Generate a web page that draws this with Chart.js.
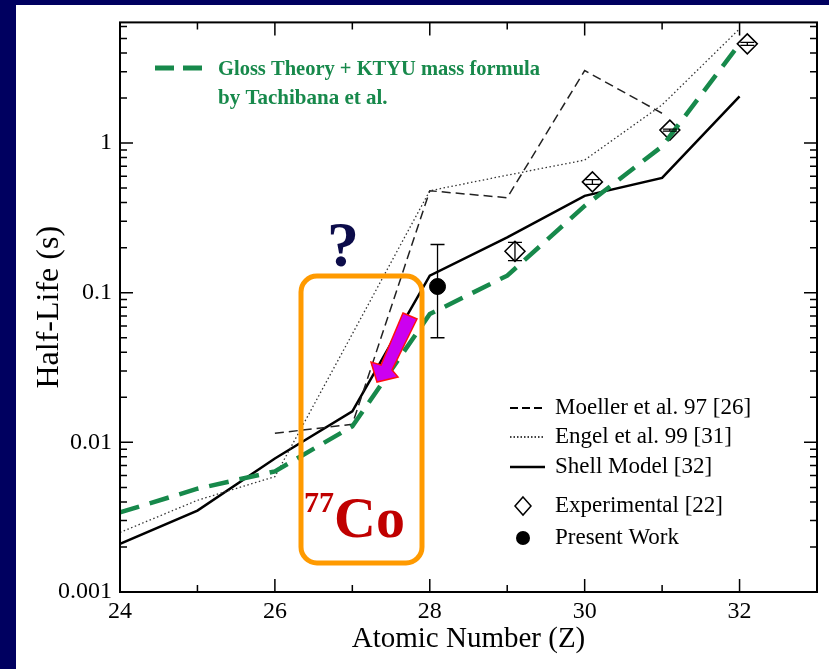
<!DOCTYPE html>
<html>
<head>
<meta charset="utf-8">
<script src="https://cdn.jsdelivr.net/npm/chart.js@4.4.1/dist/chart.umd.min.js"></script>
<style>
  html, body { margin: 0; padding: 0; background: #000060; }
  canvas { display: block; }
</style>
</head>
<body>
<canvas id="chart" width="829" height="669"></canvas>
<script>
// half-life curves, Z vs T1/2 (s)
const glossZ = [24, 25, 26, 27, 28, 29, 30, 31, 32];
const glossT = [0.0034, 0.0049, 0.0064, 0.0128, 0.072, 0.13, 0.38, 0.95, 4.6];

const moellerZ = [26, 27, 28, 29, 30, 31];
const moellerT = [0.0115, 0.0132, 0.48, 0.431, 3.05, 1.58];

const engelZ = [24, 25, 26, 27, 28, 29, 30, 31, 32];
const engelT = [0.0025, 0.0041, 0.0059, 0.053, 0.48, 0.61, 0.77, 1.8, 5.8];

const shellZ = [24, 25, 26, 27, 28, 29, 30, 31, 32];
const shellT = [0.0021, 0.0035, 0.0078, 0.0161, 0.13, 0.234, 0.444, 0.585, 2.05];

const expZ = [29.1, 30.1, 31.1, 32.1];
const expT = [0.189, 0.55, 1.22, 4.6];
const expLow = [0.164, 0.53, 1.2, 4.5];
const expHigh = [0.217, 0.57, 1.24, 4.7];

const presentZ = [28.1];
const presentT = [0.11];
const presentLow = [0.05];
const presentHigh = [0.21];

// axes
const xTickValues = [25, 26, 27, 28, 29, 30, 31, 32];
const xLabelValues = [24, 26, 28, 30, 32];
const xLabels = ["24", "26", "28", "30", "32"];
const yMajorValues = [0.001, 0.01, 0.1, 1];
const yMajorLabels = ["0.001", "0.01", "0.1", "1"];
const yMinorValues = [
    0.002, 0.003, 0.004, 0.005, 0.006, 0.007, 0.008, 0.009,
    0.02, 0.03, 0.04, 0.05, 0.06, 0.07, 0.08, 0.09,
    0.2, 0.3, 0.4, 0.5, 0.6, 0.7, 0.8, 0.9,
    2, 3, 4, 5, 6,
];

const legendLabels = [
    "Moeller et al. 97 [26]",
    "Engel et al. 99 [31]",
    "Shell Model [32]",
    "Experimental [22]",
    "Present Work",
];

const green = "#17894b";
const serif = '"Liberation Serif", "DejaVu Serif", serif';

function pts(xs, ys) {
    return xs.map((x, i) => ({ x: x, y: ys[i] }));
}

const frame = {
    id: "frame",
    beforeDraw(chart) {
        const c = chart.ctx;
        c.save();
        c.fillStyle = "#000060";
        c.fillRect(0, 0, chart.width, chart.height);
        c.fillStyle = "#ffffff";
        c.fillRect(16, 5, chart.width - 16, chart.height - 5);
        c.restore();
    },
    afterDatasetsDraw(chart) {
        const c = chart.ctx;
        const xs = chart.scales.x;
        const ys = chart.scales.y;
        const a = chart.chartArea;
        c.save();
        c.strokeStyle = "#000";

        // error bars
        c.lineWidth = 1.3;
        const bar = (z, lo, hi, w) => {
            const px = xs.getPixelForValue(z);
            const y1 = ys.getPixelForValue(lo);
            const y2 = ys.getPixelForValue(hi);
            c.beginPath();
            c.moveTo(px, y1); c.lineTo(px, y2);
            c.moveTo(px - w, y1); c.lineTo(px + w, y1);
            c.moveTo(px - w, y2); c.lineTo(px + w, y2);
            c.stroke();
        };
        expZ.forEach((z, i) => bar(z, expLow[i], expHigh[i], 7));
        presentZ.forEach((z, i) => bar(z, presentLow[i], presentHigh[i], 7));

        // box and inward ticks
        c.lineWidth = 2;
        c.strokeRect(a.left, a.top, a.right - a.left, a.bottom - a.top);
        c.lineWidth = 1.5;
        c.beginPath();
        xTickValues.forEach((v) => {
            const px = xs.getPixelForValue(v);
            const len = v % 2 === 0 ? 13 : 7;
            c.moveTo(px, a.bottom); c.lineTo(px, a.bottom - len);
            c.moveTo(px, a.top); c.lineTo(px, a.top + len);
        });
        yMajorValues.concat(yMinorValues).forEach((v) => {
            const py = ys.getPixelForValue(v);
            const len = yMajorValues.includes(v) ? 13 : 7;
            c.moveTo(a.left, py); c.lineTo(a.left + len, py);
            c.moveTo(a.right, py); c.lineTo(a.right - len, py);
        });
        c.stroke();
        c.restore();
    },
    afterDraw(chart) {
        const c = chart.ctx;
        c.save();

        // green annotation
        c.strokeStyle = green;
        c.lineWidth = 5;
        c.setLineDash([19, 9]);
        c.beginPath();
        c.moveTo(155, 68); c.lineTo(202, 68);
        c.stroke();
        c.setLineDash([]);
        c.fillStyle = green;
        c.font = "bold 21px " + serif;
        c.textBaseline = "middle";
        c.fillText("Gloss Theory + KTYU mass formula", 218, 70, 322);
        c.fillText("by Tachibana et al.", 218, 99);

        // legend
        const rows = [408, 437, 467, 506, 538];
        c.strokeStyle = "#000";
        c.fillStyle = "#000";
        c.font = "23px " + serif;
        legendLabels.forEach((t, i) => {
            const y = rows[i];
            c.beginPath();
            if (i === 0) { c.lineWidth = 1.8; c.setLineDash([8, 4]); }
            if (i === 1) { c.lineWidth = 1.3; c.setLineDash([1.5, 2]); }
            if (i === 2) { c.lineWidth = 2.5; c.setLineDash([]); }
            if (i < 3) {
                c.moveTo(510, y); c.lineTo(545, y); c.stroke();
            }
            c.setLineDash([]);
            if (i === 3) {
                c.lineWidth = 1.5;
                c.moveTo(523, y - 9); c.lineTo(531, y); c.lineTo(523, y + 9); c.lineTo(515, y);
                c.closePath(); c.stroke();
            }
            if (i === 4) {
                c.arc(523, y, 7, 0, Math.PI * 2); c.fill();
            }
            c.fillText(t, 555, y);
        });

        // orange box
        c.strokeStyle = "#ff9a00";
        c.lineWidth = 5;
        c.beginPath();
        c.roundRect(301, 276, 121, 287, 16);
        c.stroke();

        // question mark
        c.fillStyle = "#0c0c4a";
        c.font = "bold 64px " + serif;
        c.textAlign = "center";
        c.textBaseline = "alphabetic";
        c.fillText("?", 343, 266);

        // 77Co
        c.fillStyle = "#c00000";
        c.textAlign = "left";
        c.font = "bold 30px " + serif;
        c.fillText("77", 304, 512);
        c.font = "bold 58px " + serif;
        c.fillText("Co", 334, 537);

        // magenta arrow
        c.fillStyle = "#cc00f0";
        c.strokeStyle = "#ff1010";
        c.lineWidth = 1.5;
        c.beginPath();
        c.moveTo(403, 313);
        c.lineTo(417, 319);
        c.lineTo(392, 370);
        c.lineTo(398, 377);
        c.lineTo(377, 382);
        c.lineTo(371, 362);
        c.lineTo(381, 365);
        c.closePath();
        c.fill();
        c.stroke();
        c.restore();
    },
};

new Chart(document.getElementById("chart"), {
    type: "line",
    data: {
        datasets: [
            {
                label: "Gloss Theory + KTYU mass formula",
                data: pts(glossZ, glossT),
                borderColor: green,
                borderWidth: 4.5,
                borderDash: [20, 11],
                pointRadius: 0,
            },
            {
                label: legendLabels[0],
                data: pts(moellerZ, moellerT),
                borderColor: "#222",
                borderWidth: 1.5,
                borderDash: [9, 5],
                pointRadius: 0,
            },
            {
                label: legendLabels[1],
                data: pts(engelZ, engelT),
                borderColor: "#333",
                borderWidth: 1.3,
                borderDash: [1.5, 2.5],
                pointRadius: 0,
            },
            {
                label: legendLabels[2],
                data: pts(shellZ, shellT),
                borderColor: "#000",
                borderWidth: 2.5,
                pointRadius: 0,
            },
            {
                label: legendLabels[3],
                type: "scatter",
                data: pts(expZ, expT),
                showLine: false,
                pointStyle: "rectRot",
                pointRadius: 10,
                borderColor: "#000",
                backgroundColor: "rgba(255,255,255,0)",
                borderWidth: 1.5,
            },
            {
                label: legendLabels[4],
                type: "scatter",
                data: pts(presentZ, presentT),
                showLine: false,
                pointStyle: "circle",
                pointRadius: 8,
                borderColor: "#000",
                backgroundColor: "#000",
            },
        ],
    },
    options: {
        responsive: false,
        animation: false,
        layout: {
            padding: { top: 19, right: 12, left: 0, bottom: 0 },
        },
        plugins: {
            legend: { display: false },
            tooltip: { enabled: false },
        },
        scales: {
            x: {
                type: "linear",
                min: 24,
                max: 33,
                grid: { display: false, drawTicks: false },
                border: { display: false },
                afterBuildTicks: (s) => {
                    s.ticks = xLabelValues.map((v) => ({ value: v }));
                },
                afterFit: (s) => {
                    s.height = 77;
                },
                ticks: {
                    autoSkip: false,
                    maxRotation: 0,
                    padding: 5,
                    color: "#000",
                    font: { family: serif, size: 24 },
                    callback: (v) => xLabels[xLabelValues.indexOf(v)],
                },
                title: {
                    display: true,
                    text: "Atomic Number (Z)",
                    color: "#000",
                    font: { family: serif, size: 29 },
                    padding: { top: 0, bottom: 12 },
                },
            },
            y: {
                type: "logarithmic",
                min: 0.001,
                max: 6.4,
                grid: { display: false, drawTicks: false },
                border: { display: false },
                afterBuildTicks: (s) => {
                    s.ticks = yMajorValues.map((v) => ({ value: v }));
                },
                afterFit: (s) => {
                    s.width = 120;
                },
                ticks: {
                    autoSkip: false,
                    padding: 8,
                    color: "#000",
                    font: { family: serif, size: 24 },
                    callback: (v) => yMajorLabels[yMajorValues.indexOf(v)],
                },
                title: {
                    display: true,
                    text: "Half-Life (s)",
                    color: "#000",
                    font: { family: serif, size: 32 },
                    padding: { top: 30, bottom: 0 },
                },
            },
        },
    },
    plugins: [frame],
});
</script>
</body>
</html>
